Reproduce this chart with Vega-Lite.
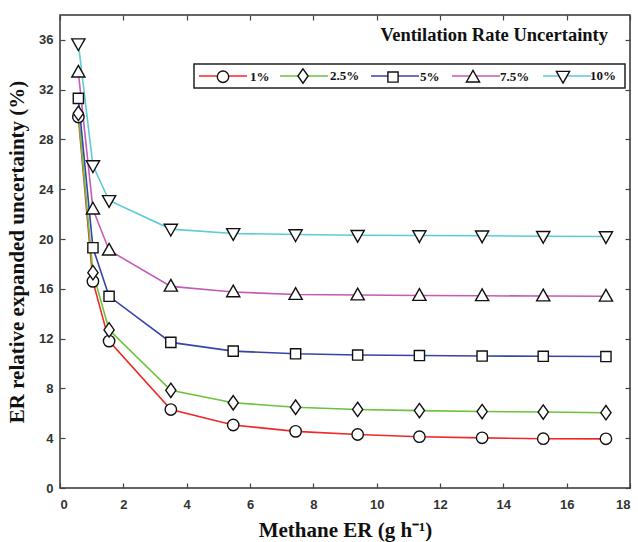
{
  "$schema": "https://vega.github.io/schema/vega-lite/v6.json",
  "width": 570,
  "height": 473,
  "autosize": "none",
  "padding": {"left": 60, "top": 15, "right": 8, "bottom": 54},
  "background": "white",
  "title": {
    "text": "Ventilation Rate Uncertainty",
    "anchor": "end",
    "frame": "group",
    "orient": "top",
    "offset": 0,
    "baseline": "middle",
    "dy": 39,
    "dx": -22,
    "font": "Liberation Serif",
    "fontSize": 18.5,
    "fontWeight": "bold",
    "color": "#111"
  },
  "config": {
    "view": {"stroke": "#333", "strokeWidth": 1.5},
    "axis": {
      "grid": false,
      "domain": false,
      "tickColor": "#444",
      "tickWidth": 1.2,
      "labelFont": "Liberation Sans",
      "labelFontWeight": "bold",
      "labelFontSize": 13,
      "labelColor": "#333",
      "titleFont": "Liberation Serif",
      "titleFontWeight": "bold",
      "titleFontSize": 21,
      "titleColor": "#111"
    }
  },
  "data": {
    "values": [
      {"series": "1%", "marker": "1%", "x": 0.58, "u": 29.8},
      {"series": "1%", "marker": "1%", "x": 1.04, "u": 16.6},
      {"series": "1%", "marker": "1%", "x": 1.55, "u": 11.8},
      {"series": "1%", "marker": "1%", "x": 3.5, "u": 6.3},
      {"series": "1%", "marker": "1%", "x": 5.47, "u": 5.06},
      {"series": "1%", "marker": "1%", "x": 7.44, "u": 4.55},
      {"series": "1%", "marker": "1%", "x": 9.4, "u": 4.3},
      {"series": "1%", "marker": "1%", "x": 11.35, "u": 4.12},
      {"series": "1%", "marker": "1%", "x": 13.33, "u": 4.03},
      {"series": "1%", "marker": "1%", "x": 15.26, "u": 3.96},
      {"series": "1%", "marker": "1%", "x": 17.24, "u": 3.95},
      {"series": "2.5%", "marker": "2.5%", "x": 0.58, "u": 30.1},
      {"series": "2.5%", "marker": "2.5%", "x": 1.04, "u": 17.3},
      {"series": "2.5%", "marker": "2.5%", "x": 1.55, "u": 12.7},
      {"series": "2.5%", "marker": "2.5%", "x": 3.5, "u": 7.85},
      {"series": "2.5%", "marker": "2.5%", "x": 5.47, "u": 6.85},
      {"series": "2.5%", "marker": "2.5%", "x": 7.44, "u": 6.49},
      {"series": "2.5%", "marker": "2.5%", "x": 9.4, "u": 6.31},
      {"series": "2.5%", "marker": "2.5%", "x": 11.35, "u": 6.22},
      {"series": "2.5%", "marker": "2.5%", "x": 13.33, "u": 6.14},
      {"series": "2.5%", "marker": "2.5%", "x": 15.26, "u": 6.1},
      {"series": "2.5%", "marker": "2.5%", "x": 17.24, "u": 6.05},
      {"series": "5%", "marker": "5%", "x": 0.58, "u": 31.3},
      {"series": "5%", "marker": "5%", "x": 1.04, "u": 19.3},
      {"series": "5%", "marker": "5%", "x": 1.55, "u": 15.4},
      {"series": "5%", "marker": "5%", "x": 3.5, "u": 11.7},
      {"series": "5%", "marker": "5%", "x": 5.47, "u": 11.0},
      {"series": "5%", "marker": "5%", "x": 7.44, "u": 10.78},
      {"series": "5%", "marker": "5%", "x": 9.4, "u": 10.68},
      {"series": "5%", "marker": "5%", "x": 11.35, "u": 10.64},
      {"series": "5%", "marker": "5%", "x": 13.33, "u": 10.6},
      {"series": "5%", "marker": "5%", "x": 15.26, "u": 10.58},
      {"series": "5%", "marker": "5%", "x": 17.24, "u": 10.56},
      {"series": "7.5%", "marker": "7.5%", "x": 0.58, "u": 33.4},
      {"series": "7.5%", "marker": "7.5%", "x": 1.04, "u": 22.4},
      {"series": "7.5%", "marker": "7.5%", "x": 1.55, "u": 19.1},
      {"series": "7.5%", "marker": "7.5%", "x": 3.5, "u": 16.2},
      {"series": "7.5%", "marker": "7.5%", "x": 5.47, "u": 15.75},
      {"series": "7.5%", "marker": "7.5%", "x": 7.44, "u": 15.54},
      {"series": "7.5%", "marker": "7.5%", "x": 9.4, "u": 15.5},
      {"series": "7.5%", "marker": "7.5%", "x": 11.35, "u": 15.46},
      {"series": "7.5%", "marker": "7.5%", "x": 13.33, "u": 15.44},
      {"series": "7.5%", "marker": "7.5%", "x": 15.26, "u": 15.42},
      {"series": "7.5%", "marker": "7.5%", "x": 17.24, "u": 15.4},
      {"series": "10%", "marker": "10%", "x": 0.58, "u": 35.7},
      {"series": "10%", "marker": "10%", "x": 1.04, "u": 25.9},
      {"series": "10%", "marker": "10%", "x": 1.55, "u": 23.1},
      {"series": "10%", "marker": "10%", "x": 3.5, "u": 20.8},
      {"series": "10%", "marker": "10%", "x": 5.47, "u": 20.45},
      {"series": "10%", "marker": "10%", "x": 7.44, "u": 20.36},
      {"series": "10%", "marker": "10%", "x": 9.4, "u": 20.3},
      {"series": "10%", "marker": "10%", "x": 11.35, "u": 20.28},
      {"series": "10%", "marker": "10%", "x": 13.33, "u": 20.26},
      {"series": "10%", "marker": "10%", "x": 15.26, "u": 20.22},
      {"series": "10%", "marker": "10%", "x": 17.24, "u": 20.2}
    ]
  },
  "resolve": {"axis": {"x": "independent", "y": "independent"}},
  "layer": [
    {
      "mark": {"type": "line", "strokeWidth": 1.6},
      "encoding": {
        "x": {
          "field": "x", "type": "quantitative",
          "scale": {"domain": [0, 18], "nice": false, "zero": false},
          "axis": {"orient": "bottom", "values": [0,2,4,6,8,10,12,14,16,18], "tickSize": -5, "labelPadding": 15, "title": "Methane ER (g h\u207B\u00B9)", "titlePadding": 8}
        },
        "y": {
          "field": "u", "type": "quantitative",
          "scale": {"domain": [0, 38], "nice": false},
          "axis": {"orient": "left", "values": [0,4,8,12,16,20,24,28,32,36], "tickSize": -5, "labelPadding": 12, "title": "ER relative expanded uncertainty (%)", "titlePadding": 11}
        },
        "color": {
          "field": "series", "type": "nominal", "sort": null,
          "scale": {"range": ["#f02828", "#6cc23a", "#3545a8", "#c55ab8", "#5ccbd8"]},
          "legend": {
            "title": null,
            "orient": "none",
            "legendX": 134,
            "legendY": 49,
            "direction": "horizontal",
            "symbolType": "M-4,0L4,0",
            "symbolSize": 144,
            "symbolStrokeWidth": 1.6,
            "symbolOffset": 17,
            "labelOffset": 20,
            "columnPadding": 6,
            "padding": 5,
            "labelFont": "Liberation Serif",
            "labelFontWeight": "bold",
            "labelFontSize": 13,
            "labelColor": "transparent",
            "strokeColor": "#222",
            "fillColor": "white",
            "encode": {
              "legend": {"update": {"strokeWidth": {"value": 1.5}}}
            }
          }
        }
      }
    },
    {
      "mark": {"type": "point", "filled": false, "fill": "white", "strokeWidth": 1.4, "size": 144, "opacity": 1},
      "encoding": {
        "x": {
          "field": "x", "type": "quantitative",
          "axis": {"orient": "top", "values": [0,2,4,6,8,10,12,14,16,18], "tickSize": -5, "labels": false, "title": null}
        },
        "y": {
          "field": "u", "type": "quantitative",
          "axis": {"orient": "right", "values": [0,4,8,12,16,20,24,28,32,36], "tickSize": -5, "labels": false, "title": null}
        },
        "stroke": {
          "field": "marker", "type": "nominal", "sort": null,
          "scale": {"range": ["#111", "#111", "#111", "#111", "#111"]},
          "legend": {
            "title": null,
            "orient": "none",
            "legendX": 134,
            "legendY": 49,
            "direction": "horizontal",
            "symbolSize": 144,
            "symbolOffset": 17,
            "symbolFillColor": "white",
            "symbolStrokeWidth": 1.4,
            "labelOffset": 20,
            "columnPadding": 6,
            "padding": 5,
            "labelFont": "Liberation Serif",
            "labelFontWeight": "bold",
            "labelFontSize": 13,
            "labelColor": "#111"
          }
        },
        "shape": {
          "field": "marker", "type": "nominal", "sort": null,
          "scale": {"range": [
            "M-4,0M4,0M0.95,0A0.95,0.95 0 1,1 -0.95,0A0.95,0.95 0 1,1 0.95,0Z",
            "M-4,0M4,0M0,-1.2L0.85,0L0,1.2L-0.85,0Z",
            "M-4,0M4,0M-0.85,-0.85L0.85,-0.85L0.85,0.85L-0.85,0.85Z",
            "M-4,0M4,0M0,-1.15L1.1,0.8L-1.1,0.8Z",
            "M-4,0M4,0M0,1.15L1.1,-0.8L-1.1,-0.8Z"
          ]},
          "legend": {
            "title": null,
            "orient": "none",
            "legendX": 134,
            "legendY": 49,
            "direction": "horizontal",
            "symbolSize": 144,
            "symbolOffset": 17,
            "symbolFillColor": "white",
            "symbolStrokeWidth": 1.4,
            "labelOffset": 20,
            "columnPadding": 6,
            "padding": 5,
            "labelFont": "Liberation Serif",
            "labelFontWeight": "bold",
            "labelFontSize": 13,
            "labelColor": "#111"
          }
        }
      }
    }
  ]
}
